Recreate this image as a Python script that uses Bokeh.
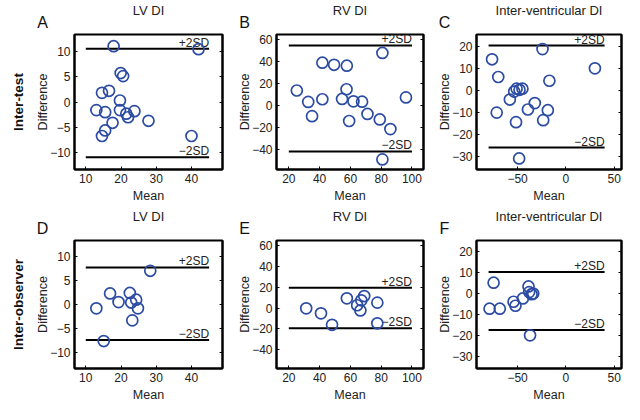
import math
from bokeh.plotting import figure
from bokeh.models import Range1d, LinearAxis, FixedTicker, Label, Title, CustomJSTickFormatter
from bokeh.layouts import gridplot
from bokeh.embed import file_html
from bokeh.resources import INLINE
from bokeh.core.properties import value

# ---------------- data ----------------
a_mean = [17.9, 42.0, 19.9, 20.6, 14.6, 16.6, 19.7, 13.0, 15.5, 19.7, 21.5, 22.0, 23.8, 27.8, 17.6, 15.5, 14.6, 40.0]
a_diff = [11.0, 10.4, 5.7, 5.1, 1.8, 2.2, 0.3, -1.6, -2.0, -1.6, -2.3, -3.0, -1.8, -3.7, -4.1, -5.6, -6.7, -6.7]
a_sd = [10.5, -10.9]

b_mean = [25.2, 32.6, 35.1, 41.8, 41.8, 49.4, 57.7, 57.5, 54.6, 59.2, 62.0, 67.6, 71.1, 79.1, 80.8, 86.0, 96.1, 80.8]
b_diff = [14.0, 3.6, -9.4, 39.3, 6.0, 37.4, 36.6, 15.1, 6.3, -13.8, 4.1, 3.8, -7.4, -12.4, 48.2, -21.2, 7.7, -48.8]
b_sd = [55.0, -41.5]

c_mean = [-76.4, -24.2, 30.0, -70.0, -17.1, -53.5, -51.0, -48.0, -45.0, -58.0, -71.6, -39.3, -32.2, -18.7, -51.6, -23.5, -48.4]
c_diff = [14.1, 18.7, 10.0, 6.1, 4.4, -0.5, 0.8, 0.3, 0.8, -4.1, -10.0, -8.6, -5.7, -8.9, -14.3, -13.4, -30.7]
c_sd = [20.3, -25.8]

d_mean = [28.3, 16.9, 22.5, 19.3, 22.9, 24.3, 24.8, 13.0, 23.2, 15.1]
d_diff = [7.0, 2.3, 2.4, 0.5, 0.4, 1.0, -0.8, -0.8, -3.3, -7.6]
d_sd = [7.7, -7.4]

e_mean = [31.3, 40.9, 48.1, 57.7, 64.4, 67.1, 69.0, 66.5, 77.5, 77.5]
e_diff = [-0.2, -5.0, -16.0, 9.4, 2.8, 7.5, 11.6, -2.2, 5.3, -14.6]
e_sd = [19.5, -19.4]

f_mean = [-74.8, -79.0, -68.4, -54.2, -52.2, -44.5, -38.7, -38.0, -35.5, -33.8, -37.1]
f_diff = [5.2, -7.2, -7.2, -3.9, -5.8, -2.3, 3.4, 0.7, -0.3, 0.0, -19.9]
f_sd = [10.3, -17.3]

lv_xrange = [6.8, 48.8]
lv_yrange = [-13.3, 13.3]
lv_line_x = [10, 45]
lv_xticks = [10, 20, 30, 40]
lv_yticks = [-10, -5, 0, 5, 10]

rv_xrange = [12, 107.5]
rv_yrange = [-58, 65]
rv_line_x = [20, 100]
rv_xticks = [20, 40, 60, 80, 100]
rv_yticks = [-40, -20, 0, 20, 40, 60]

iv_xrange = [-92.5, 57.5]
iv_yrange = [-35.7, 25.3]
iv_line_x = [-80, 40]
iv_xticks = [-50, 0, 50]
iv_yticks = [-30, -20, -10, 0, 10, 20]

sd_labels = ["+2SD", "\u22122SD"]
titles = ["LV DI", "RV DI", "Inter-ventricular DI"]
letters = ["A", "B", "C", "D", "E", "F"]
row_labels = ["Inter-test", "Inter-observer"]

FONT = "Liberation Sans"
BLUE = "#2c4ca3"

fmt_code = "return tick < 0 ? '\\u2212' + (-tick) : String(tick);"


def panel(mean, diff, sd, xr, yr, lx, xt, yt, letter, title, w, h, bl, br, bt, bb, row_label=None):
    p = figure(width=w, height=h, x_range=Range1d(*xr), y_range=Range1d(*yr),
               output_backend="svg", toolbar_location=None,
               min_border_left=bl, min_border_right=br, min_border_top=bt, min_border_bottom=bb)
    p.grid.visible = False
    p.outline_line_color = "black"
    p.outline_line_width = 2
    p.background_fill_color = "white"
    p.border_fill_color = "white"

    p.title.text = title
    p.title.align = "center"
    p.title.text_font = FONT
    p.title.text_font_style = "normal"
    p.title.text_font_size = "13px"
    p.title.text_color = "#222222"
    p.title.standoff = 0

    p.xaxis.axis_label = "Mean"
    p.yaxis.axis_label = "Difference"
    p.xaxis.ticker = FixedTicker(ticks=xt)
    p.yaxis.ticker = FixedTicker(ticks=yt)
    main_axes = [p.xaxis[0], p.yaxis[0]]

    right = LinearAxis(ticker=FixedTicker(ticks=yt))
    p.add_layout(right, "right")

    for ax in main_axes + [right]:
        ax.major_tick_in = 3
        ax.major_tick_out = 0
        ax.minor_tick_line_color = None
        ax.axis_line_width = 2
        ax.axis_line_color = "black"
        ax.major_tick_line_color = "black"
        ax.major_tick_line_width = 1
        ax.major_label_text_font = FONT
        ax.axis_label_text_font = FONT
        ax.axis_label_text_font_style = "normal"
        ax.axis_label_text_font_size = "12.5px"
        ax.axis_label_text_color = "#222222"
        ax.major_label_text_color = "#222222"
        ax.formatter = CustomJSTickFormatter(code=fmt_code)
    for ax in main_axes:
        ax.major_label_text_font_size = "12px"
        ax.major_label_standoff = 4
    p.yaxis[0].axis_label_standoff = -3
    p.xaxis[0].axis_label_standoff = 3
    right.major_label_text_font_size = "1px"
    right.major_label_text_color = None
    right.major_label_standoff = 0

    p.segment(x0=[lx[0], lx[0]], x1=[lx[1], lx[1]], y0=sd, y1=sd,
              line_color="black", line_width=2)
    p.text(x=[lx[1], lx[1]], y=sd, text=sd_labels, text_align="right",
           text_baseline="bottom", y_offset=1, text_font=value(FONT),
           text_font_size="12px", text_color="#222222")
    p.scatter(mean, diff, marker="circle", size=11, fill_color=None,
              line_color=BLUE, line_width=1.7)

    p.add_layout(Label(x=-32, y=4, x_units="screen", y_units="screen", text=letter,
                       text_align="center", text_baseline="bottom", text_font=FONT,
                       text_font_size="16px", text_color="#111111"), "above")
    if row_label:
        p.add_layout(Title(text=row_label, align="center", text_font=FONT,
                           text_font_style="bold", text_font_size="13.5px",
                           text_color="#111111", standoff=16), "left")
    return p


cols = [(235, 72, 13), (200, 38, 12), (189, 37, 3)]
rows = [(206, 22, 37), (198, 22, 31)]

specs = [
    (a_mean, a_diff, a_sd, lv_xrange, lv_yrange, lv_line_x, lv_xticks, lv_yticks),
    (b_mean, b_diff, b_sd, rv_xrange, rv_yrange, rv_line_x, rv_xticks, rv_yticks),
    (c_mean, c_diff, c_sd, iv_xrange, iv_yrange, iv_line_x, iv_xticks, iv_yticks),
    (d_mean, d_diff, d_sd, lv_xrange, lv_yrange, lv_line_x, lv_xticks, lv_yticks),
    (e_mean, e_diff, e_sd, rv_xrange, rv_yrange, rv_line_x, rv_xticks, rv_yticks),
    (f_mean, f_diff, f_sd, iv_xrange, iv_yrange, iv_line_x, iv_xticks, iv_yticks),
]

grid_rows = []
for r in range(2):
    h, bt, bb = rows[r]
    row = []
    for c in range(3):
        w, bl, br = cols[c]
        s = specs[r * 3 + c]
        p = panel(*s, letters[r * 3 + c], titles[c], w, h, bl, br, bt, bb,
                  row_label=row_labels[r] if c == 0 else None)
        row.append(p)
    grid_rows.append(row)

grid = gridplot(grid_rows, toolbar_location=None)

open("out.html", "w").write(file_html(grid, INLINE))
